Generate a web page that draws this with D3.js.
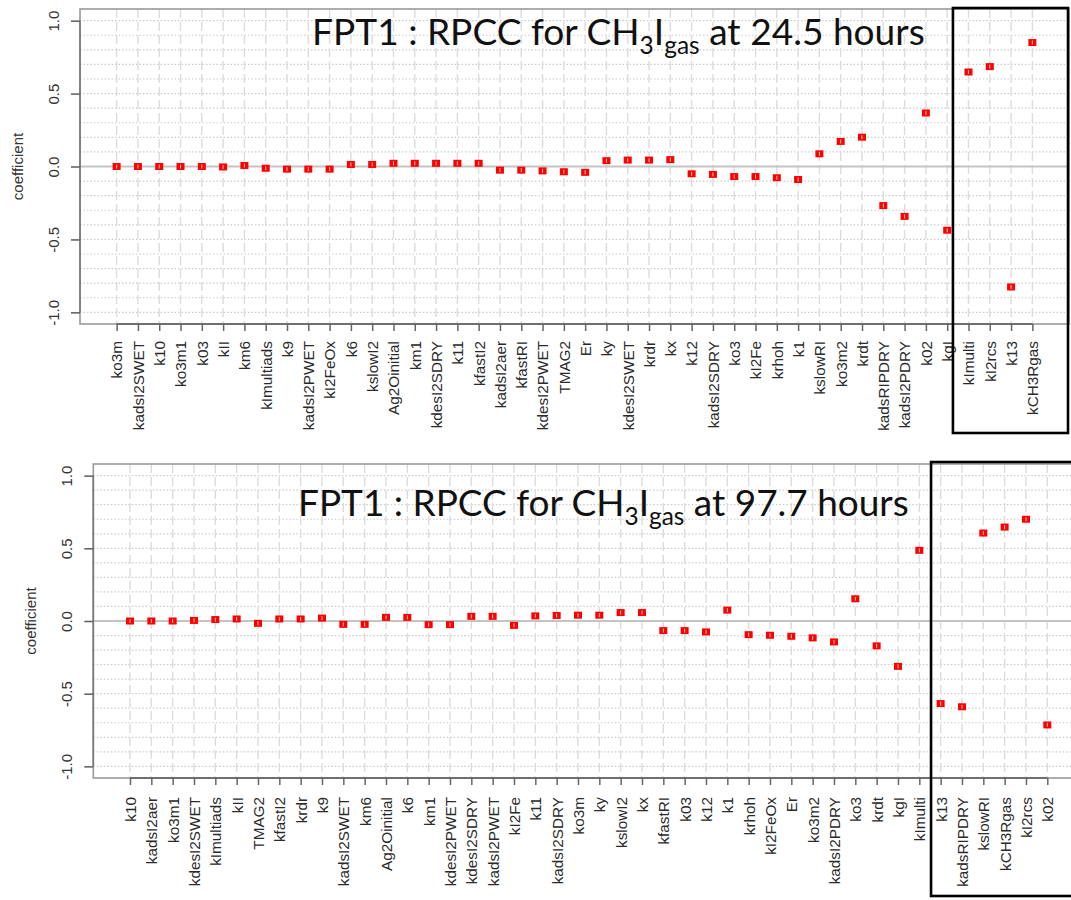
<!DOCTYPE html>
<html>
<head>
<meta charset="utf-8">
<script src="https://cdn.jsdelivr.net/npm/d3@7/dist/d3.min.js"></script>
<style>
  html, body { margin: 0; padding: 0; background: #ffffff; }
  svg { display: block; }
</style>
</head>
<body>
<svg id="chart" width="1071" height="900"></svg>
<script>
// ---------------- DATA ----------------
const topCategories = ["ko3m","kadsI2SWET","k10","ko3m1","k03","kII","km6","kImultiads","k9","kadsI2PWET",
  "kI2FeOx","k6","kslowI2","Ag2Oinitial","km1","kdesI2SDRY","k11","kfastI2","kadsI2aer","kfastRI",
  "kdesI2PWET","TMAG2","Er","ky","kdesI2SWET","krdr","kx","k12","kadsI2SDRY","ko3",
  "kI2Fe","krhoh","k1","kslowRI","ko3m2","krdt","kadsRIPDRY","kadsI2PDRY","k02","kgI",
  "kImulti","kI2rcs","k13","kCH3Rgas"];
const topValues = [0.000,0.000,0.000,0.000,0.000,-0.003,0.007,-0.012,-0.018,-0.018,
  -0.018,0.014,0.014,0.022,0.022,0.022,0.022,0.022,-0.025,-0.025,
  -0.030,-0.036,-0.040,0.040,0.044,0.044,0.047,-0.050,-0.054,-0.069,
  -0.069,-0.077,-0.089,0.087,0.172,0.201,-0.268,-0.342,0.367,-0.437,
  0.648,0.685,-0.826,0.850];

const bottomCategories = ["k10","kadsI2aer","ko3m1","kdesI2SWET","kImultiads","kII","TMAG2","kfastI2","krdr","k9",
  "kadsI2SWET","km6","Ag2Oinitial","k6","km1","kdesI2PWET","kdesI2SDRY","kadsI2PWET","kI2Fe","k11",
  "kadsI2SDRY","ko3m","ky","kslowI2","kx","kfastRI","k03","k12","k1","krhoh",
  "kI2FeOx","Er","ko3m2","kadsI2PDRY","ko3","krdt","kgI","kImulti","k13","kadsRIPDRY",
  "kslowRI","kCH3Rgas","kI2rcs","k02"];
const bottomValues = [0.000,0.000,0.000,0.004,0.010,0.014,-0.016,0.014,0.014,0.020,
  -0.023,-0.023,0.025,0.025,-0.025,-0.025,0.032,0.032,-0.030,0.035,
  0.038,0.040,0.040,0.058,0.058,-0.066,-0.066,-0.075,0.075,-0.094,
  -0.098,-0.105,-0.116,-0.144,0.153,-0.171,-0.312,0.486,-0.568,-0.590,
  0.605,0.646,0.700,-0.715];

const yTickValues = [-1.0, -0.5, 0.0, 0.5, 1.0];
const yTickLabels = ["-1.0", "-0.5", "0.0", "0.5", "1.0"];
const yAxisTitle = "coefficient";
const gridStepValues = d3.range(-10, 11).map(k => k / 10);

const topTitleParts = ["FPT1 : RPCC for CH", "3", "I", "gas", " at 24.5 hours"];
const bottomTitleParts = ["FPT1 : RPCC for CH", "3", "I", "gas", " at 97.7 hours"];

// ---------------- DRAW ----------------
const svg = d3.select("#chart");
svg.append("rect").attr("width", 1071).attr("height", 900).attr("fill", "#ffffff");

const AXIS_FONT = "'Liberation Sans', Arial, Helvetica, sans-serif";
const TITLE_FONT = "Lato, 'Open Sans', sans-serif";

function drawPanel(cfg) {
  const n = cfg.categories.length;
  const ext = 0.04 * (n - 1);
  const x = d3.scaleLinear().domain([-ext, (n - 1) + ext]).range([cfg.left, cfg.right]);
  const y = d3.scaleLinear().domain([-1.08, 1.08]).range([cfg.bottom, cfg.top]);
  const g = svg.append("g");

  // horizontal dotted grid
  g.append("g").selectAll("line")
    .data(gridStepValues.filter(v => Math.abs(v) > 1e-9))
    .join("line")
    .attr("x1", cfg.left).attr("x2", cfg.right)
    .attr("y1", d => y(d)).attr("y2", d => y(d))
    .attr("stroke", "#cccccc").attr("stroke-width", 1.2)
    .attr("stroke-dasharray", "1.5,2");

  // vertical dashed grid
  g.append("g").selectAll("line")
    .data(d3.range(n))
    .join("line")
    .attr("x1", d => x(d)).attr("x2", d => x(d))
    .attr("y1", cfg.top).attr("y2", cfg.bottom)
    .attr("stroke", "#dcdcdc").attr("stroke-width", 1.4)
    .attr("stroke-dasharray", "9,4");

  // zero line
  g.append("line")
    .attr("x1", cfg.left).attr("x2", cfg.right)
    .attr("y1", y(0)).attr("y2", y(0))
    .attr("stroke", "#c4c4c4").attr("stroke-width", 2.2);

  // plot frame
  g.append("rect")
    .attr("x", cfg.left).attr("y", cfg.top)
    .attr("width", cfg.right - cfg.left).attr("height", cfg.bottom - cfg.top)
    .attr("fill", "none").attr("stroke", "#9a9a9a").attr("stroke-width", 1.6);

  // y axis
  const yAxis = d3.axisLeft(y).tickValues(yTickValues)
    .tickFormat((d, i) => yTickLabels[i]).tickSize(9).tickSizeOuter(0);
  const ya = g.append("g").attr("transform", `translate(${cfg.left},0)`).call(yAxis);
  ya.select(".domain").attr("stroke", "#777").attr("stroke-width", 1.6)
    .attr("d", `M0,${y(-1)}V${y(1)}`);
  ya.selectAll(".tick line").attr("stroke", "#666").attr("stroke-width", 1.6);
  ya.selectAll(".tick text")
    .attr("x", null).attr("dy", null)
    .attr("transform", `translate(${-cfg.yLabelOffset},0) rotate(-90)`)
    .attr("text-anchor", "middle")
    .attr("font-family", AXIS_FONT).attr("font-size", 15).attr("fill", "#333");

  // y title
  g.append("text")
    .attr("transform", `translate(${cfg.yTitleX},${(cfg.top + cfg.bottom) / 2}) rotate(-90)`)
    .attr("text-anchor", "middle")
    .attr("font-family", AXIS_FONT).attr("font-size", 15).attr("fill", "#333")
    .text(yAxisTitle);

  // x axis
  const xAxis = d3.axisBottom(x).tickValues(d3.range(n))
    .tickFormat(i => cfg.categories[i]).tickSize(7).tickSizeOuter(0);
  const xa = g.append("g").attr("transform", `translate(0,${cfg.bottom})`).call(xAxis);
  xa.select(".domain").attr("stroke", "#6f6f6f").attr("stroke-width", 1.8)
    .attr("d", `M${x(0)},0H${x(n - 1)}`);
  xa.selectAll(".tick line").attr("stroke", "#666").attr("stroke-width", 1.5);
  xa.selectAll(".tick text")
    .attr("x", null).attr("y", null).attr("dy", "0.35em")
    .attr("transform", `translate(0,${cfg.xLabelGap}) rotate(-90)`)
    .attr("text-anchor", "end")
    .attr("font-family", AXIS_FONT).attr("font-size", 15.3).attr("fill", "#2a2a2a");

  // points
  const pts = g.append("g").selectAll("g")
    .data(cfg.values.map((v, i) => ({ i, v })))
    .join("g")
    .attr("transform", d => `translate(${x(d.i)},${y(d.v)})`);
  pts.append("rect")
    .attr("x", -4).attr("y", -3.5).attr("width", 8).attr("height", 7)
    .attr("fill", "#ff0000");
  pts.append("rect")
    .attr("x", -0.5).attr("y", -2).attr("width", 1).attr("height", 4)
    .attr("fill", "#ffffff").attr("opacity", 0.75);

  // title (horizontally fitted to the measured width)
  const tg = g.append("g");
  const t = tg.append("text")
    .attr("x", 0).attr("y", 0)
    .attr("font-family", TITLE_FONT).attr("font-size", 37).attr("fill", "#111");
  const P = cfg.titleParts;
  const fs = 37;
  t.append("tspan").text(P[0]);
  t.append("tspan").attr("font-size", fs * 0.66).attr("dy", fs * 0.24).text(P[1]);
  t.append("tspan").attr("dy", -fs * 0.24).text(P[2]);
  t.append("tspan").attr("font-size", fs * 0.66).attr("dy", fs * 0.24).text(P[3]);
  t.append("tspan").attr("dy", -fs * 0.24).text(P[4]);
  const w = t.node().getComputedTextLength();
  const kx = w > 0 ? cfg.titleWidth / w : 1;
  tg.attr("transform", `translate(${cfg.titleX},${cfg.titleY}) scale(${kx},1)`);

  // highlight box
  g.append("rect")
    .attr("x", x(cfg.boxFrom)).attr("y", cfg.boxTop)
    .attr("width", cfg.boxRight - x(cfg.boxFrom)).attr("height", cfg.boxBottom - cfg.boxTop)
    .attr("fill", "none").attr("stroke", "#000").attr("stroke-width", 2.6);
}

drawPanel({
  categories: topCategories, values: topValues,
  left: 80, right: 1069, top: 9, bottom: 324,
  yLabelOffset: 21, yTitleX: 23,
  xLabelGap: 17,
  titleParts: topTitleParts, titleX: 312, titleY: 45, titleWidth: 613,
  boxFrom: 39.27, boxTop: 8, boxBottom: 433, boxRight: 1068
});

drawPanel({
  categories: bottomCategories, values: bottomValues,
  left: 93.3, right: 1084, top: 464, bottom: 778,
  yLabelOffset: 21, yTitleX: 36,
  xLabelGap: 19,
  titleParts: bottomTitleParts, titleX: 298, titleY: 516, titleWidth: 611,
  boxFrom: 37.55, boxTop: 462, boxBottom: 896, boxRight: 1090
});
</script>
</body>
</html>
